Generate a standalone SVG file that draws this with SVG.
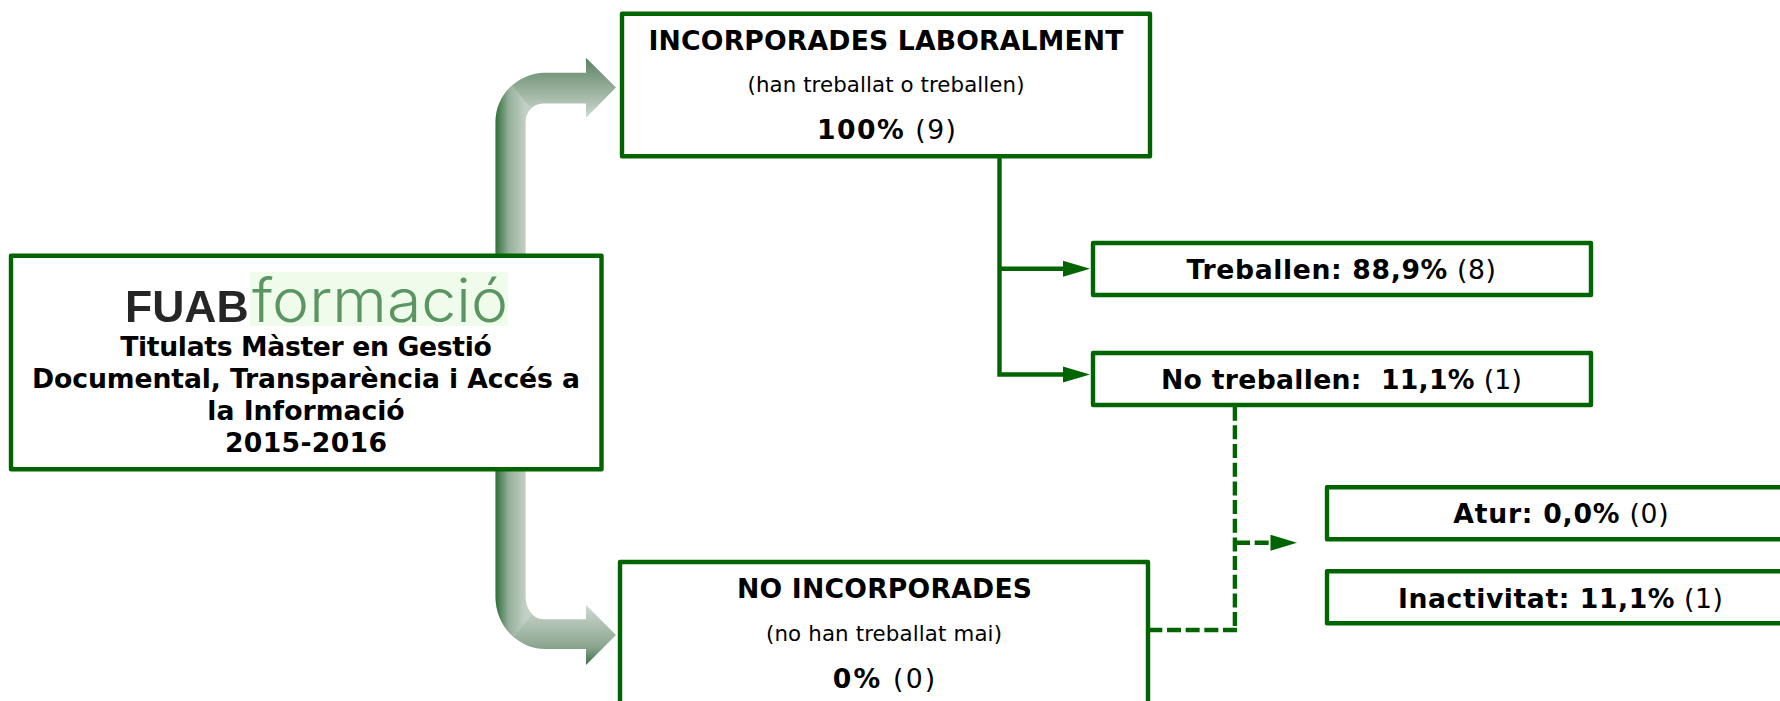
<svg xmlns="http://www.w3.org/2000/svg" width="1780" height="701" viewBox="0 0 1780 701">
<style>
.box{fill:#fff;stroke:#006400;stroke-width:4.4;stroke-linejoin:round}
.t{font-family:"DejaVu Sans","Liberation Sans",sans-serif;font-size:26.67px;fill:#000;text-anchor:middle}
.b{font-weight:700}
.s{font-size:21.33px}
.line{fill:none;stroke:#006400;stroke-width:4.4}
.dash{stroke-dasharray:14 4.67}
.head{fill:#006400}
</style>
<defs>
<linearGradient id="shaft" gradientUnits="userSpaceOnUse" x1="495.5" y1="0" x2="525.5" y2="0"><stop offset="0" stop-color="#2f6f39"/><stop offset=".45" stop-color="#96b09a"/><stop offset="1" stop-color="#c3d0c5"/></linearGradient>
<linearGradient id="gt" gradientUnits="userSpaceOnUse" x1="0" y1="57.7" x2="0" y2="117.7"><stop offset="0" stop-color="#5a8161"/><stop offset="1" stop-color="#ced9d0"/></linearGradient>
<linearGradient id="gb" gradientUnits="userSpaceOnUse" x1="0" y1="605" x2="0" y2="665"><stop offset="0" stop-color="#ced9d0"/><stop offset=".7" stop-color="#8ba58f"/><stop offset="1" stop-color="#3f7047"/></linearGradient>
<clipPath id="ct"><polygon points="480,260 480,70 500,70 560,145 560,260"/></clipPath>
<clipPath id="cb"><polygon points="480,465 560,465 560,578 500,655 480,655"/></clipPath>
<filter id="soft" x="-5%" y="-5%" width="110%" height="110%"><feGaussianBlur stdDeviation="0.6"/></filter>
</defs>
<g id="connectors">
<g id="arrow-up">
<path fill="url(#gt)" d="M495.5 256V122A50 49 0 0 1 545 72.8H586V57.7L616 87.5L586 117.7V103.4H543A18 18 0 0 0 525.5 122V256Z"/>
<path fill="url(#shaft)" clip-path="url(#ct)" d="M495.5 256V122A50 49 0 0 1 545 72.8H586V57.7L616 87.5L586 117.7V103.4H543A18 18 0 0 0 525.5 122V256Z"/>
</g>
<g id="arrow-down">
<path fill="url(#gb)" d="M495.5 468V597A50 52 0 0 0 545 649H586V665L616 635L586 605V619.3H543A18 22 0 0 1 525.5 597V468Z"/>
<path fill="url(#shaft)" clip-path="url(#cb)" d="M495.5 468V597A50 52 0 0 0 545 649H586V665L616 635L586 605V619.3H543A18 22 0 0 1 525.5 597V468Z"/>
</g>
<path class="line" d="M999.5 156V374.5H1064"/>
<path class="line" d="M999.5 268.7H1064"/>
<path class="head" d="M1063 260.7L1090 268.7L1063 276.7Z"/>
<path class="head" d="M1063 366.5L1090 374.5L1063 382.5Z"/>
<path class="line dash" d="M1234.9 406.7V632"/>
<path class="line dash" d="M1237 630H1148"/>
<path class="line dash" d="M1236 542.7H1271"/>
<path class="head" d="M1270.5 534.7L1297 542.7L1270.5 550.7Z"/>
</g>
<g id="node-origin">
<rect class="box" x="11" y="255.8" width="590.5" height="213.5"/>
<rect x="250" y="272" width="258" height="54" fill="#effceb"/>
<text y="322" font-family="'Liberation Sans',sans-serif" filter="url(#soft)"><tspan x="125" font-weight="700" font-size="44.5" fill="#262626">FUAB</tspan><tspan x="252" font-family="Inter,'Liberation Sans',sans-serif" font-weight="300" font-size="60" fill="#5a9562" textLength="256" lengthAdjust="spacingAndGlyphs">formació</tspan></text>
<text class="t b" x="306" y="356" textLength="371.5">Titulats Màster en Gestió</text>
<text class="t b" x="306" y="388" textLength="548">Documental, Transparència i Accés a</text>
<text class="t b" x="306" y="420" textLength="197.4">la Informació</text>
<text class="t b" x="306" y="452" textLength="162">2015-2016</text>
</g>
<g id="node-incorporades">
<rect class="box" x="622" y="13.7" width="528" height="142.5"/>
<text class="t b" x="886" y="50" textLength="475">INCORPORADES LABORALMENT</text>
<text class="t s" x="886" y="92" textLength="277">(han treballat o treballen)</text>
<text class="t" x="886.5" y="139" textLength="139"><tspan class="b">100%</tspan> (9)</text>
</g>
<g id="node-no-incorporades">
<rect class="box" x="620" y="562" width="528" height="180"/>
<text class="t b" x="884.5" y="598" textLength="295">NO INCORPORADES</text>
<text class="t s" x="884" y="641" textLength="236">(no han treballat mai)</text>
<text class="t" x="884" y="688" textLength="102.5"><tspan class="b">0%</tspan> (0)</text>
</g>
<g id="node-treballen">
<rect class="box" x="1093" y="243" width="498" height="52"/>
<text class="t" x="1341.3" y="279" textLength="309.4"><tspan class="b">Treballen: 88,9%</tspan> (8)</text>
</g>
<g id="node-no-treballen">
<rect class="box" x="1093" y="353" width="498" height="52"/>
<text class="t" x="1341.5" y="389" textLength="361" xml:space="preserve"><tspan class="b">No treballen:  11,1%</tspan> (1)</text>
</g>
<g id="node-atur">
<rect class="box" x="1327" y="487.2" width="480" height="52"/>
<text class="t" x="1561" y="523" textLength="215.5"><tspan class="b">Atur: 0,0%</tspan> (0)</text>
</g>
<g id="node-inactivitat">
<rect class="box" x="1327" y="571.2" width="480" height="52"/>
<text class="t" x="1560.5" y="608" textLength="325"><tspan class="b">Inactivitat: 11,1%</tspan> (1)</text>
</g>
</svg>
